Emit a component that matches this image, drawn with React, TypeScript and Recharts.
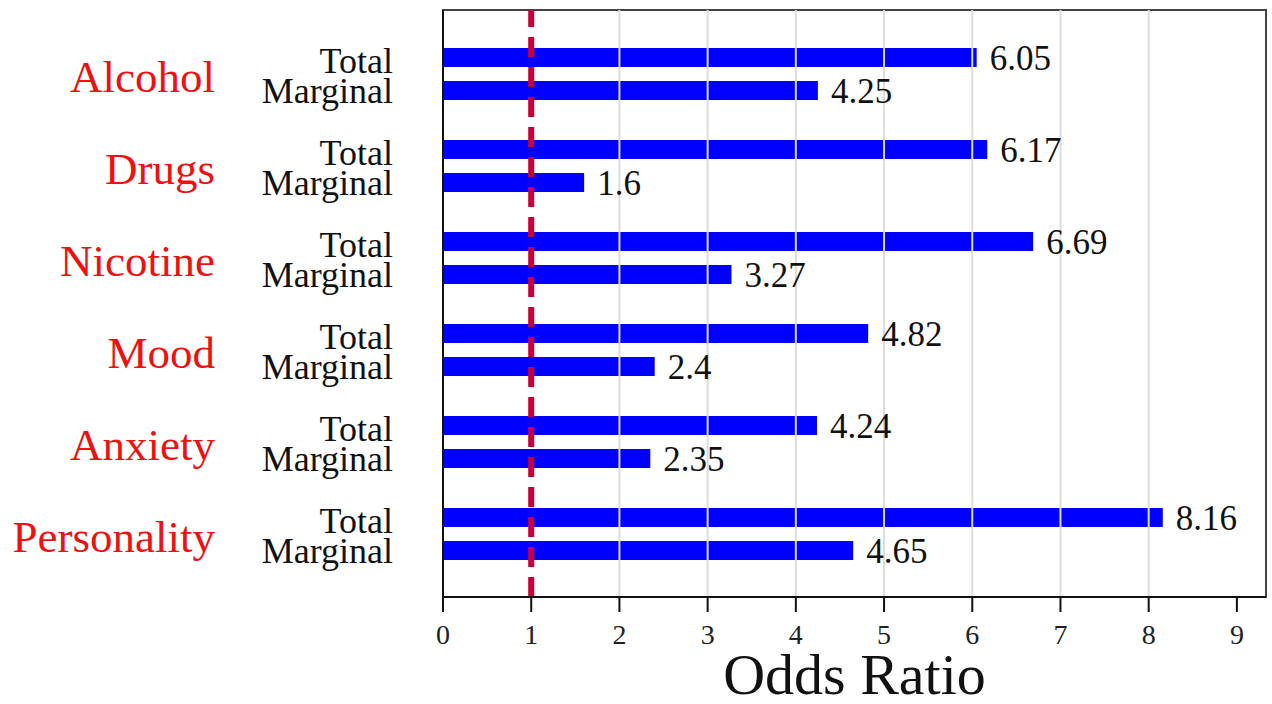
import React from 'react';
import * as Recharts from 'recharts';
import {
  BarChart,
  Bar,
  XAxis,
  YAxis,
  ReferenceLine,
  LabelList
} from 'recharts';

// Odds ratios
const groups = ['Alcohol', 'Drugs', 'Nicotine', 'Mood', 'Anxiety', 'Personality'];
const totalValues = [6.05, 6.17, 6.69, 4.82, 4.24, 8.16];
const marginalValues = [4.25, 1.6, 3.27, 2.4, 2.35, 4.65];
const subLabels = ['Total', 'Marginal'];
const xTicks = [0, 1, 2, 3, 4, 5, 6, 7, 8, 9];
const gridValues = [2, 3, 4, 5, 6, 7, 8];
const nullLine = 1;
const xMax = 9.33;

const data = groups.map((g, i) => ({
  group: g,
  total: totalValues[i],
  marginal: marginalValues[i]
}));

const FONT = '"Liberation Serif", "DejaVu Serif", serif';

const usePlot: any = (Recharts as any).usePlotArea || (() => null);

// box round the plot area (top and right edges; left/bottom are the axes)
const PlotFrame = () => {
  const area = usePlot();
  if (!area) return null;
  return (
    <rect
      x={area.x}
      y={area.y}
      width={area.width}
      height={area.height}
      fill="none"
      stroke="#444"
      strokeWidth={2}
    />
  );
};

const GroupTick = (props: any) => {
  const { x, y, payload } = props;
  return (
    <g>
      <text x={x - 228} y={y + 18} textAnchor="end" fill="#ee1111" fontSize={45} fontFamily={FONT}>
        {payload.value}
      </text>
      <text x={x - 50} y={y - 1} textAnchor="end" fill="#111" fontSize={36} fontFamily={FONT}>
        {subLabels[0]}
      </text>
      <text x={x - 50} y={y + 29} textAnchor="end" fill="#111" fontSize={36} fontFamily={FONT}>
        {subLabels[1]}
      </text>
    </g>
  );
};

export default function App() {
  return (
    <div style={{ width: 1272, height: 704, background: '#fff' }}>
      <style>{'body{margin:0;}'}</style>
      <BarChart
        width={1272}
        height={704}
        data={data}
        layout="vertical"
        margin={{ top: 10, right: 6, left: 0, bottom: 0 }}
        barGap={14}
      >
        <PlotFrame />
        <XAxis
          type="number"
          domain={[0, xMax]}
          ticks={xTicks}
          allowDataOverflow
          height={107}
          axisLine={{ stroke: '#111', strokeWidth: 2 }}
          tickLine={{ stroke: '#111', strokeWidth: 2 }}
          tickSize={15}
          tickMargin={12}
          tick={{ fill: '#222', fontSize: 28, fontFamily: FONT }}
          label={{
            value: 'Odds Ratio',
            position: 'insideBottom',
            offset: 10,
            fill: '#111',
            fontSize: 58,
            fontFamily: FONT
          }}
        />
        <YAxis
          type="category"
          dataKey="group"
          width={443}
          padding={{ top: 18, bottom: 17 }}
          axisLine={{ stroke: '#111', strokeWidth: 2 }}
          tickLine={false}
          tickSize={0}
          tickMargin={0}
          tick={<GroupTick />}
          interval={0}
        />
        <ReferenceLine x={xMax} stroke="#444" strokeWidth={2} />
        {gridValues.map((v) => (
          <ReferenceLine key={v} x={v} stroke="#dcdcdc" strokeWidth={2} />
        ))}
        <ReferenceLine x={nullLine} stroke="#c8003a" strokeWidth={6} strokeDasharray="20 10" />
        <Bar dataKey="total" fill="#0000ff" barSize={19} isAnimationActive={false}>
          <LabelList
            dataKey="total"
            position="right"
            offset={13}
            fill="#111"
            fontSize={35}
            fontFamily={FONT}
          />
        </Bar>
        <Bar dataKey="marginal" fill="#0000ff" barSize={19} isAnimationActive={false}>
          <LabelList
            dataKey="marginal"
            position="right"
            offset={13}
            fill="#111"
            fontSize={35}
            fontFamily={FONT}
          />
        </Bar>
      </BarChart>
    </div>
  );
}
